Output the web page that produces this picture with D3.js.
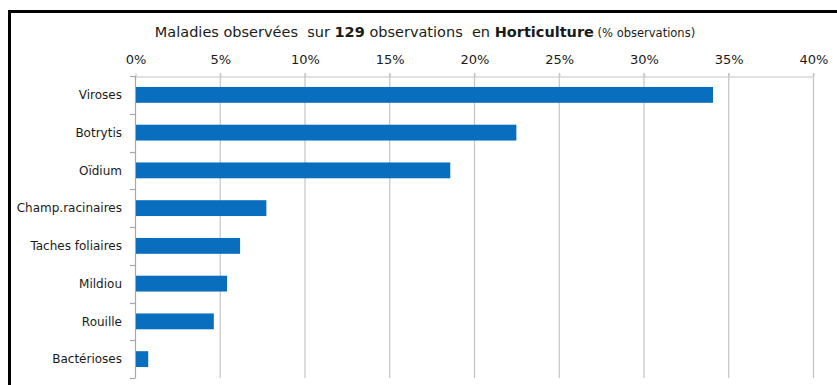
<!DOCTYPE html>
<html>
<head>
<meta charset="utf-8">
<script src="https://cdn.jsdelivr.net/npm/d3@7"></script>
<style>
  html, body { margin: 0; padding: 0; background: #fff; }
  svg { display: block; }
  text { font-family: "DejaVu Sans", Verdana, sans-serif; fill: #1a1a1a; }
</style>
</head>
<body>
<svg id="chart" width="837" height="385"></svg>
<script>
// Diseases observed, share of the 129 horticulture observations (%)
const categories = ["Viroses", "Botrytis", "Oïdium", "Champ.racinaires",
                    "Taches foliaires", "Mildiou", "Rouille", "Bactérioses"];
const percentages = [34.1, 22.5, 18.6, 7.75, 6.2, 5.43, 4.65, 0.78];
const tickValues = [0, 5, 10, 15, 20, 25, 30, 35, 40];
const totalObservations = 129;

const svg = d3.select("#chart");
const W = 837, H = 385;
const plot = { left: 135, right: 813, top: 76, bottom: 378 };

svg.append("rect").attr("width", W).attr("height", H).attr("fill", "#fff");

// frame (left and top edges)
svg.append("path")
  .attr("d", `M9.5,${H} V11.5 H${W}`)
  .attr("fill", "none").attr("stroke", "#000").attr("stroke-width", 3);

const x = d3.scaleLinear().domain([0, 40]).range([plot.left, plot.right]);
const y = d3.scaleBand().domain(categories).range([plot.top, plot.bottom])
  .paddingInner(0.58).paddingOuter(0.29);

// title
const title = svg.append("text")
  .attr("x", 425).attr("y", 37).attr("text-anchor", "middle")
  .attr("xml:space", "preserve")
  .style("font-size", "14.5px");
title.append("tspan").text("Maladies observées  sur ");
title.append("tspan").style("font-weight", "bold").text(String(totalObservations));
title.append("tspan").text(" observations  en ");
title.append("tspan").style("font-weight", "bold").text("Horticulture");
title.append("tspan").style("font-size", "11.5px").text(" (% observations)");

// vertical gridlines
svg.append("g")
  .selectAll("line").data(tickValues.slice(1)).join("line")
  .attr("x1", d => x(d) + 0.5).attr("x2", d => x(d) + 0.5)
  .attr("y1", plot.top - 3).attr("y2", plot.bottom)
  .attr("stroke", "#c4c4c4").attr("stroke-width", 1.2);

// top axis
const xAxis = svg.append("g")
  .attr("transform", `translate(0.5,${plot.top + 0.5})`)
  .call(d3.axisTop(x).tickValues(tickValues).tickFormat(d => d + "%")
    .tickSizeInner(3).tickSizeOuter(0).tickPadding(10));
xAxis.select(".domain").attr("stroke", "#c4c4c4").attr("stroke-width", 1.2);
xAxis.selectAll(".tick line").attr("stroke", "#c4c4c4").attr("stroke-width", 1.2);
xAxis.selectAll(".tick text")
  .style("font-size", "13px").style("font-family", "DejaVu Sans, sans-serif")
  .attr("fill", "#1a1a1a");

// left axis: line plus ticks at category boundaries
const boundaries = d3.range(categories.length + 1)
  .map(i => plot.top + i * y.step());
svg.append("line")
  .attr("x1", plot.left + 0.5).attr("x2", plot.left + 0.5)
  .attr("y1", plot.top).attr("y2", plot.bottom)
  .attr("stroke", "#a8a8a8").attr("stroke-width", 1.2);
svg.append("g").selectAll("line").data(boundaries).join("line")
  .attr("x1", plot.left - 5).attr("x2", plot.left + 0.5)
  .attr("y1", d => Math.round(d) + 0.5).attr("y2", d => Math.round(d) + 0.5)
  .attr("stroke", "#a8a8a8").attr("stroke-width", 1.2);

// category labels
svg.append("g").selectAll("text").data(categories).join("text")
  .attr("x", plot.left - 13)
  .attr("y", d => y(d) + y.bandwidth() / 2)
  .attr("dy", "0.35em")
  .attr("text-anchor", "end")
  .style("font-size", "12px")
  .text(d => d);

// bars
svg.append("g").selectAll("rect").data(categories).join("rect")
  .attr("x", x(0) + 1)
  .attr("y", d => y(d))
  .attr("width", (d, i) => x(percentages[i]) - x(0) - 1)
  .attr("height", y.bandwidth())
  .attr("fill", "#0A6EBE");
</script>
</body>
</html>
